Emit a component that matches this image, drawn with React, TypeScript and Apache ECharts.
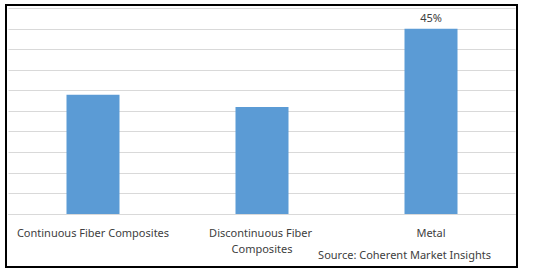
import React, { useEffect, useRef } from "react";
import * as echarts from "echarts";

const categories = ["Continuous Fiber Composites", "Discontinuous Fiber Composites", "Metal"];
const values = [29, 26, 45];
const labelShown = [false, false, true];
const sourceText = "Source: Coherent Market Insights";

export default function App() {
  const ref = useRef<HTMLDivElement>(null);
  useEffect(() => {
    if (!ref.current) return;
    const chart = echarts.init(ref.current, undefined, { renderer: "svg" });
    const font = "'Noto Sans', sans-serif";
    chart.setOption({
      animation: false,
      backgroundColor: "#ffffff",
      grid: { left: 8.5, right: 22.5, top: 8.3, bottom: 58 },
      xAxis: {
        type: "category",
        data: categories,
        axisLine: { lineStyle: { color: "#D9D9D9", width: 1 } },
        axisTick: { show: false },
        axisLabel: {
          color: "#404040",
          fontSize: 11,
          fontFamily: font,
          lineHeight: 16,
          margin: 10,
          interval: 0,
          width: 160,
          overflow: "break",
        },
      },
      yAxis: {
        type: "value",
        min: 0,
        max: 50,
        interval: 5,
        axisLabel: { show: false },
        axisLine: { show: false },
        axisTick: { show: false },
        splitLine: { lineStyle: { color: "#D9D9D9", width: 1 } },
      },
      series: [
        {
          type: "bar",
          barWidth: 53,
          itemStyle: { color: "#5B9BD5" },
          data: values.map((v, i) => ({
            value: v,
            label: {
              show: labelShown[i],
              position: "top",
              distance: 6,
              formatter: "{c}%",
              color: "#404040",
              fontSize: 11,
              fontFamily: font,
            },
          })),
        },
      ],
      graphic: [
        {
          type: "rect",
          shape: { x: 6, y: 5, width: 511, height: 262 },
          style: { fill: "none", stroke: "#000000", lineWidth: 2 },
          silent: true,
        },
        {
          type: "text",
          right: 538 - 491,
          top: 249,
          style: {
            text: sourceText,
            fill: "#404040",
            fontSize: 11,
            fontFamily: font,
          },
        },
      ],
    });
    return () => chart.dispose();
  }, []);
  return (
    <div
      ref={ref}
      style={{ position: "fixed", left: 0, top: 0, width: 538, height: 272 }}
    />
  );
}
